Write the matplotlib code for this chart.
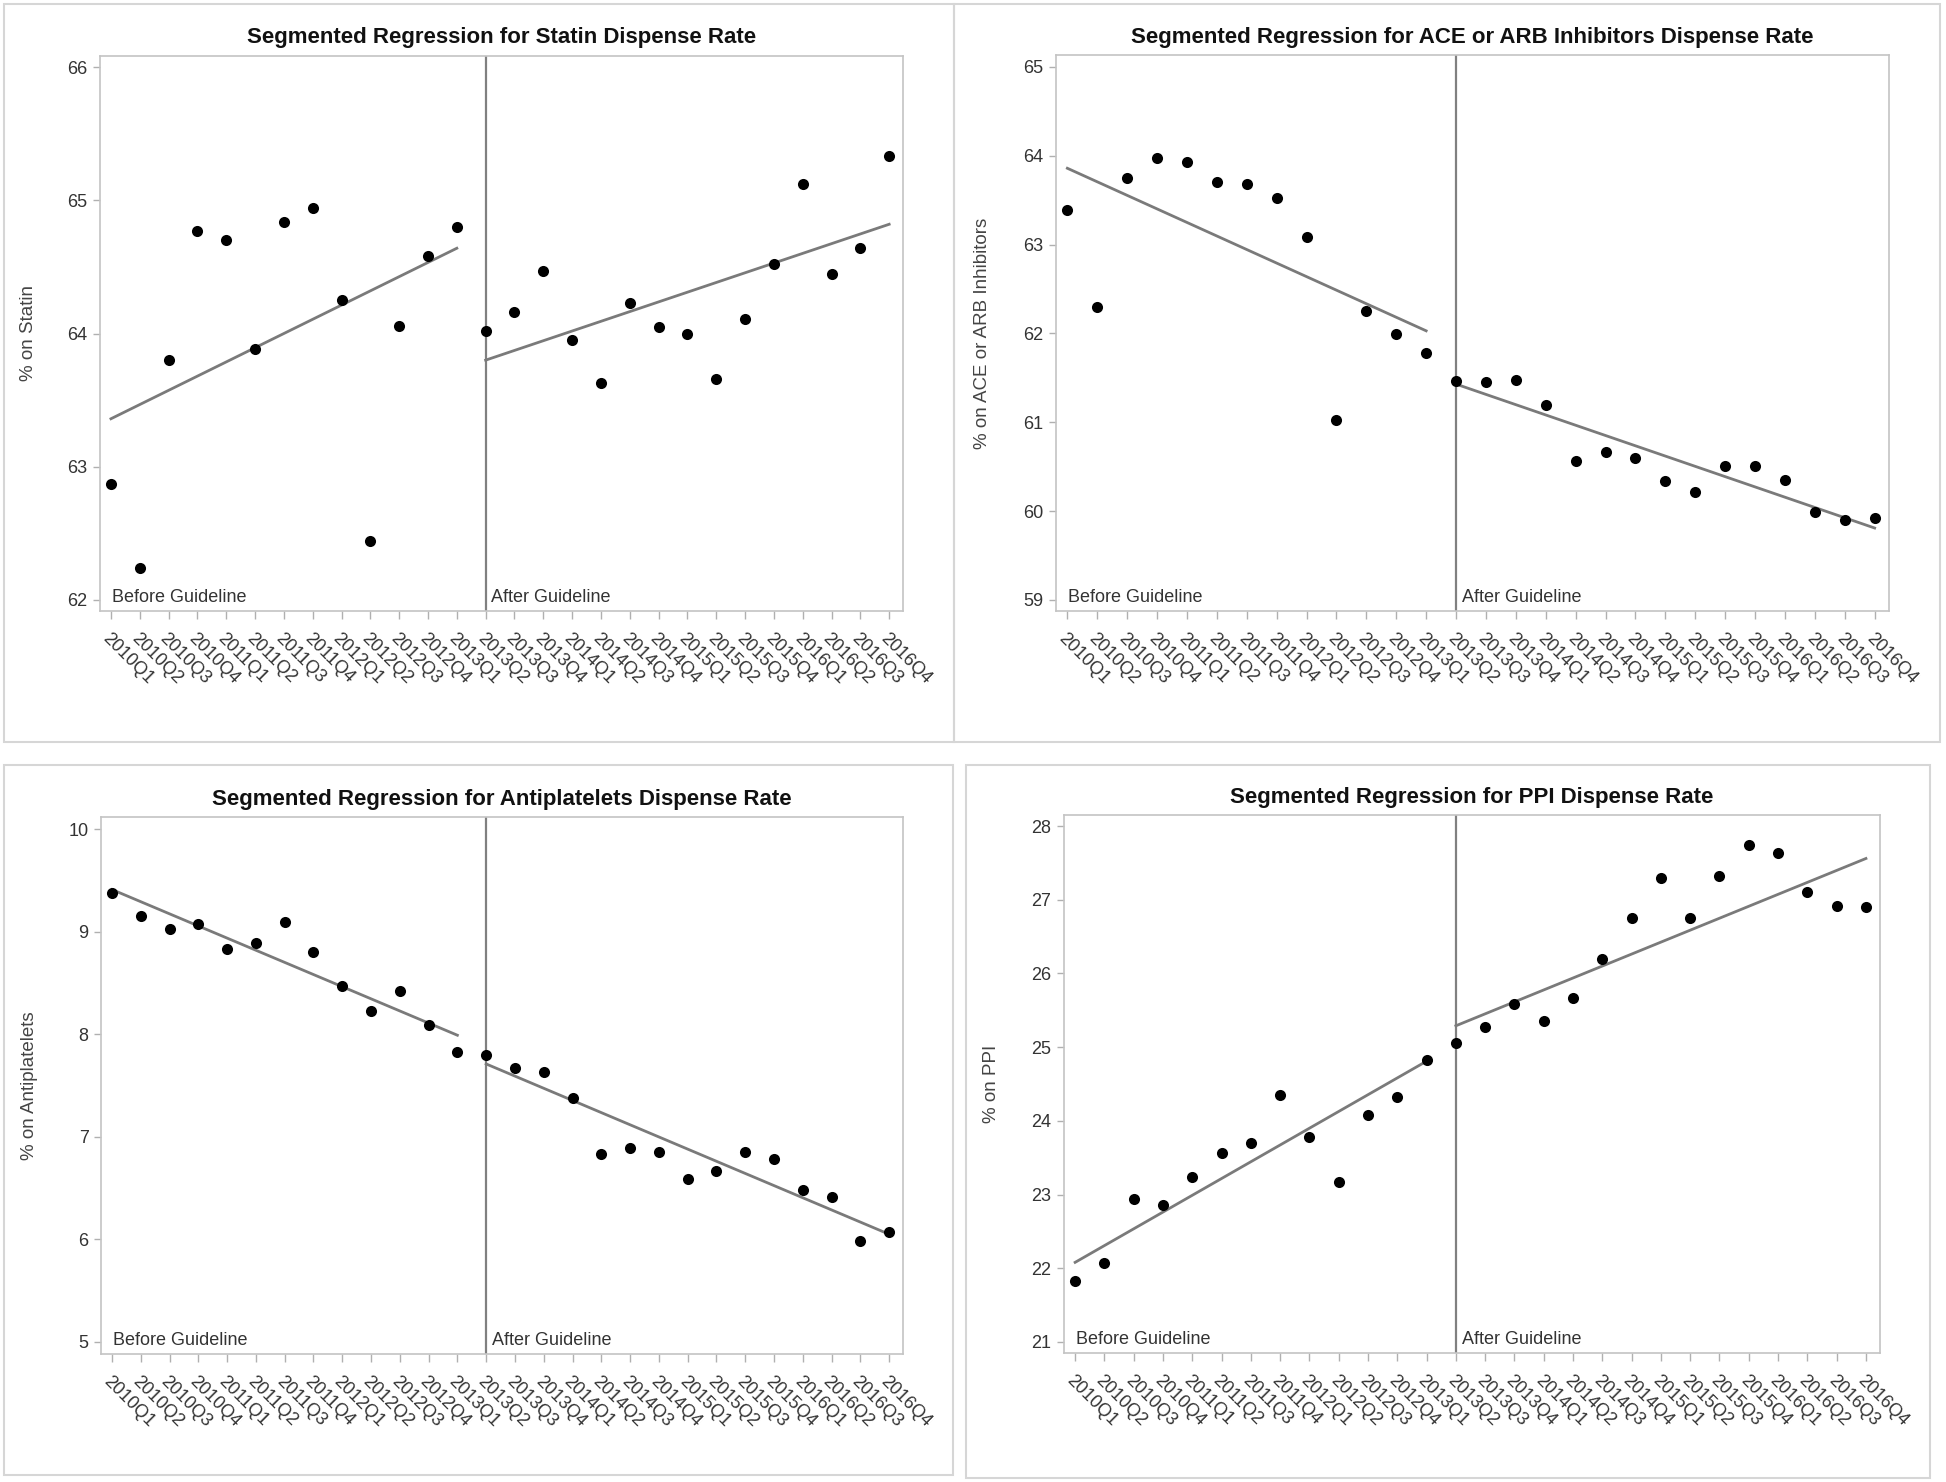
import numpy as np
import matplotlib.pyplot as plt
from matplotlib.patches import Rectangle

plt.rcParams['font.family'] = ['Liberation Sans', 'DejaVu Sans']

# Quarter labels on the x axis
quarters = ['2010Q1', '2010Q2', '2010Q3', '2010Q4', '2011Q1', '2011Q2', '2011Q3',
            '2011Q4', '2012Q1', '2012Q2', '2012Q3', '2012Q4', '2013Q1', '2013Q2',
            '2013Q3', '2013Q4', '2014Q1', '2014Q2', '2014Q3', '2014Q4', '2015Q1',
            '2015Q2', '2015Q3', '2015Q4', '2016Q1', '2016Q2', '2016Q3', '2016Q4']
guideline_q = '2013Q2'

# Observed dispense rates (%)
statin = [62.87, 62.24, 63.80, 64.77, 64.70, 63.88, 64.84, 64.94, 64.25, 62.44,
          64.06, 64.58, 64.80, 64.02, 64.16, 64.47, 63.95, 63.63, 64.23, 64.05,
          64.00, 63.66, 64.11, 64.52, 65.12, 64.45, 64.64, 65.33]
ace_arb = [63.39, 62.30, 63.75, 63.98, 63.93, 63.70, 63.68, 63.52, 63.09, 61.03,
           62.25, 61.99, 61.78, 61.47, 61.45, 61.48, 61.19, 60.56, 60.67, 60.60,
           60.34, 60.21, 60.51, 60.51, 60.35, 59.99, 59.90, 59.92]
antiplatelets = [9.38, 9.15, 9.03, 9.07, 8.83, 8.89, 9.09, 8.80, 8.47, 8.23,
                 8.42, 8.09, 7.83, 7.80, 7.67, 7.63, 7.38, 6.83, 6.89, 6.85,
                 6.59, 6.67, 6.85, 6.78, 6.48, 6.41, 5.98, 6.07]
ppi = [21.83, 22.07, 22.94, 22.86, 23.24, 23.56, 23.70, 24.35, 23.78, 23.17,
       24.08, 24.33, 24.82, 25.06, 25.27, 25.59, 25.35, 25.67, 26.20, 26.75,
       27.30, 26.75, 27.32, 27.74, 27.63, 27.10, 26.92, 26.90]

# Fitted segment values (first and last quarter of each segment)
statin_pre, statin_post = [63.36, 64.64], [63.80, 64.82]
ace_pre, ace_post = [63.86, 62.03], [61.43, 59.81]
anti_pre, anti_post = [9.41, 7.99], [7.71, 6.05]
ppi_pre, ppi_post = [22.08, 24.81], [25.29, 27.56]

W, H = 1946, 1482
fig = plt.figure(figsize=(W / 100, H / 100), dpi=100)


def px_axes(l, t, r, b):
    return fig.add_axes([l / W, 1 - b / H, (r - l) / W, (b - t) / H])


# light grey frames around each of the four panels
for x0, y0, x1, y1 in [(4, 4, 954, 742), (954, 4, 1940, 742),
                       (4, 765, 953, 1475), (966, 765, 1930, 1478)]:
    fig.add_artist(Rectangle((x0 / W, 1 - y1 / H), (x1 - x0) / W, (y1 - y0) / H,
                             transform=fig.transFigure, fill=False,
                             ec='#d6d6d6', lw=1.5))


def panel(ax, values, fit_pre, fit_post, title, ylabel, ylim, yticks):
    x = np.arange(len(quarters))
    g = quarters.index(guideline_q)
    ax.axvline(g, color='#808080', lw=1.6, zorder=1)
    ax.plot([x[0], x[g - 1]], fit_pre, color='#7a7a7a', lw=2.0, zorder=2)
    ax.plot([x[g], x[-1]], fit_post, color='#7a7a7a', lw=2.0, zorder=2)
    ax.scatter(x, values, s=64, color='black', zorder=3, linewidths=0)

    ax.set_xlim(-0.38, 27.48)
    ax.set_ylim(*ylim)
    ax.set_yticks(yticks)
    ax.set_xticks(x)
    ax.set_xticklabels(quarters, rotation=-45, ha='left', va='top',
                       rotation_mode='anchor', fontsize=13, color='#333333')
    ax.tick_params(axis='x', length=6, width=1, color='#b0b0b0', pad=8)
    ax.tick_params(axis='y', length=5, width=1, color='#b0b0b0', pad=4,
                   labelsize=13, labelcolor='#333333')
    for s in ax.spines.values():
        s.set_color('#c4c4c4')
        s.set_linewidth(1.2)

    ax.set_title(title, fontsize=16, fontweight='bold', color='#111111', pad=9)
    ax.set_ylabel(ylabel, fontsize=13.5, color='#444444')
    ax.yaxis.set_label_coords(-0.078, 0.5)

    ax.text(0.015, 0.017, 'Before Guideline', transform=ax.transAxes,
            fontsize=13, color='#333333', va='baseline', ha='left')
    ax.text(g + 0.2, 0.017, 'After Guideline', transform=ax.get_xaxis_transform(),
            fontsize=13, color='#333333', va='baseline', ha='left')


ax1 = px_axes(100, 56, 903, 611)
panel(ax1, statin, statin_pre, statin_post,
      'Segmented Regression for Statin Dispense Rate', '% on Statin',
      (61.917, 66.083), [62, 63, 64, 65, 66])

ax2 = px_axes(1056, 55, 1889, 611)
panel(ax2, ace_arb, ace_pre, ace_post,
      'Segmented Regression for ACE or ARB Inhibitors Dispense Rate',
      '% on ACE or ARB Inhibitors', (58.876, 65.135), [59, 60, 61, 62, 63, 64, 65])

ax3 = px_axes(101, 817, 903, 1354)
panel(ax3, antiplatelets, anti_pre, anti_post,
      'Segmented Regression for Antiplatelets Dispense Rate', '% on Antiplatelets',
      (4.883, 10.117), [5, 6, 7, 8, 9, 10])

ax4 = px_axes(1064, 815, 1880, 1353)
panel(ax4, ppi, ppi_pre, ppi_post,
      'Segmented Regression for PPI Dispense Rate', '% on PPI',
      (20.85, 28.15), [21, 22, 23, 24, 25, 26, 27, 28])

fig.savefig('out.png', dpi=100, facecolor='white')
